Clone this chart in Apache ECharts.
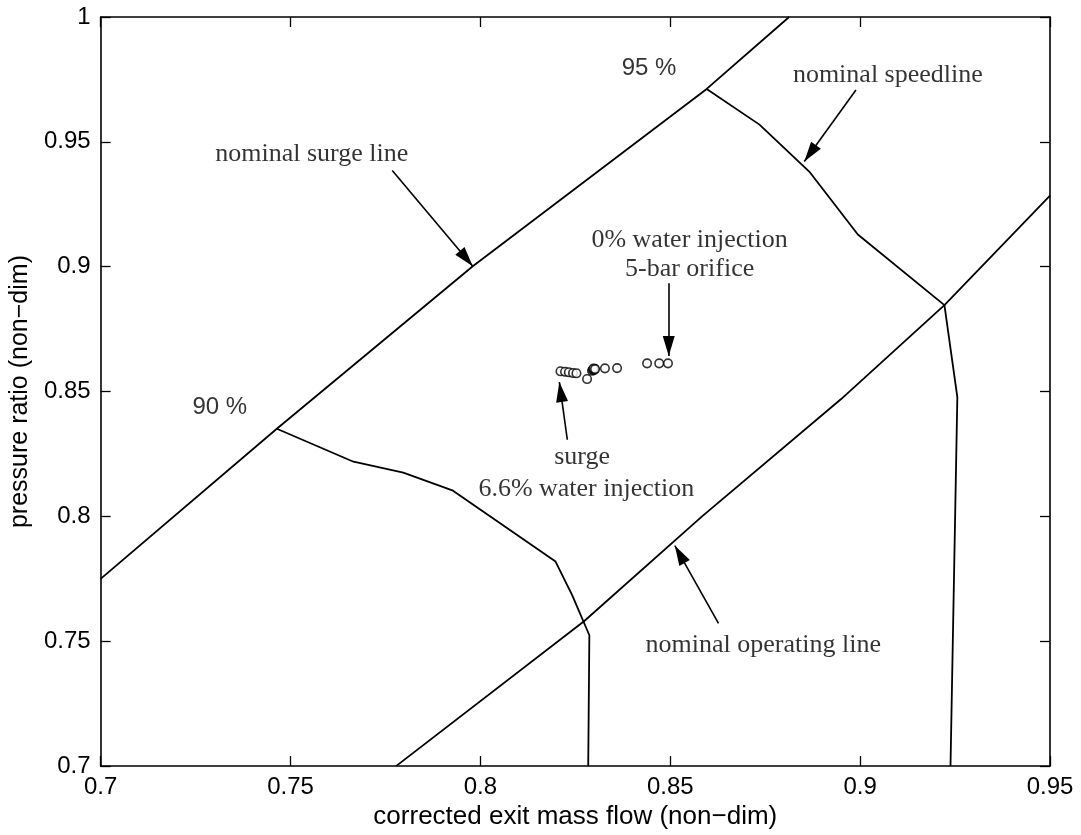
<!DOCTYPE html>
<html>
<head>
<meta charset="utf-8">
<script src="https://cdn.jsdelivr.net/npm/echarts@6/dist/echarts.min.js"></script>
<style>
  html, body { margin: 0; padding: 0; background: #fff; }
  #chart { width: 1081px; height: 835px; }
</style>
</head>
<body>
<div id="chart"></div>
<script>
// Compressor map: corrected exit mass flow vs pressure ratio (both non-dimensional)

// Axis range and tick spacing
const xRange = [0.7, 0.95];
const yRange = [0.7, 1.0];
const tickStep = 0.05;

// Nominal surge line
const surgeLine = [[0.7, 0.775], [0.7464, 0.8351], [0.7980, 0.9002], [0.8596, 0.9712], [0.8813, 1.0]];

// 90 % corrected speed line
const speedline90 = [[0.7464, 0.8351], [0.7666, 0.8219], [0.7797, 0.8175], [0.7928, 0.8103],
  [0.8198, 0.7819], [0.8242, 0.7684], [0.8287, 0.7524], [0.8284, 0.7]];

// 95 % (nominal) corrected speed line
const speedline95 = [[0.8596, 0.9712], [0.8735, 0.9569], [0.8866, 0.9381], [0.8994, 0.9129],
  [0.9222, 0.8846], [0.9256, 0.8478], [0.9238, 0.7]];

// Nominal operating line
const operatingLine = [[0.7778, 0.7], [0.8273, 0.758], [0.8583, 0.7999], [0.8950, 0.847],
  [0.9222, 0.8846], [0.95, 0.9285]];

// Measured operating points, from 6.6 % water injection (surge) to 0 % water injection
const pointFlow = [0.8211, 0.8223, 0.8233, 0.8244, 0.8253, 0.8281, 0.8294, 0.8296, 0.8299,
  0.8301, 0.8298, 0.8302, 0.8328, 0.8360, 0.8439, 0.8471, 0.8494];
const pointRatio = [0.8581, 0.8579, 0.8577, 0.8574, 0.8573, 0.8550, 0.8583, 0.8588, 0.8586,
  0.8591, 0.8592, 0.8590, 0.8593, 0.8594, 0.8613, 0.8613, 0.8613];

// Annotation arrows (tail -> head), in data coordinates
const arrowTails = [[0.7768, 0.9385], [0.8989, 0.9708], [0.8496, 0.8934], [0.8229, 0.8307], [0.8627, 0.7572]];
const arrowHeads = [[0.7980, 0.9002], [0.8853, 0.9421], [0.8496, 0.8642], [0.8208, 0.8538], [0.8512, 0.7883]];

// Annotation texts and their anchor points, in data coordinates
const noteTexts = ['nominal surge line', 'nominal speedline', '0% water injection', '5-bar orifice',
  'surge', '6.6% water injection', 'nominal operating line'];
const noteAnchors = [[0.7556, 0.9449], [0.9073, 0.9768], [0.8551, 0.9105], [0.8551, 0.8990],
  [0.8268, 0.8239], [0.8279, 0.8111], [0.8745, 0.7484]];

// Speed labels
const speedTexts = ['95 %', '90 %'];
const speedAnchors = [[0.8444, 0.9796], [0.7314, 0.8438]];

const SANS = '"Liberation Sans", Arial, Helvetica, sans-serif';
const SERIF = '"Liberation Serif", "Times New Roman", serif';
const INK = '#000';

const fmt = v => String(parseFloat(v.toFixed(2)));

const boxAxis = (extra) => Object.assign({
  type: 'value',
  interval: tickStep,
  axisLine: { show: true, onZero: false, lineStyle: { color: INK, width: 1.6 } },
  axisTick: { show: true, inside: true, length: 10, lineStyle: { color: INK, width: 1.3 } },
  splitLine: { show: false },
  axisLabel: { show: false }
}, extra);

const curve = (name, data) => ({
  name, type: 'line', data, symbol: 'none', silent: true,
  itemStyle: { color: INK },
  lineStyle: { color: INK, width: 1.8 }, z: 3
});

const chart = echarts.init(document.getElementById('chart'), null, { renderer: 'canvas' });

chart.setOption({
  animation: false,
  backgroundColor: '#fff',
  grid: { left: 96, right: 31, top: 17, bottom: 67, containLabel: false },
  xAxis: [
    boxAxis({
      min: xRange[0], max: xRange[1], position: 'bottom',
      name: 'corrected exit mass flow (non\u2212dim)', nameLocation: 'middle', nameGap: 36,
      nameTextStyle: { color: INK, fontFamily: SANS, fontSize: 26 },
      axisLabel: { show: true, color: INK, fontFamily: SANS, fontSize: 24, margin: 9, formatter: fmt }
    }),
    boxAxis({ min: xRange[0], max: xRange[1], position: 'top' })
  ],
  yAxis: [
    boxAxis({
      min: yRange[0], max: yRange[1], position: 'left',
      name: 'pressure ratio (non\u2212dim)', nameLocation: 'middle', nameGap: 65,
      nameTextStyle: { color: INK, fontFamily: SANS, fontSize: 25 },
      axisLabel: { show: true, color: INK, fontFamily: SANS, fontSize: 24, margin: 10, formatter: fmt }
    }),
    boxAxis({ min: yRange[0], max: yRange[1], position: 'right' })
  ],
  series: [
    curve('surge line', surgeLine),
    curve('90 % speed', speedline90),
    curve('95 % speed', speedline95),
    curve('operating line', operatingLine),
    {
      name: 'operating points', type: 'scatter', silent: true, z: 4,
      data: pointFlow.map((x, i) => [x, pointRatio[i]]),
      symbol: 'circle', symbolSize: 8.5,
      itemStyle: { color: '#fff', borderColor: INK, borderWidth: 1.6 }
    },
    {
      name: 'annotations', type: 'scatter', silent: true, z: 5,
      symbolSize: 1, itemStyle: { color: 'transparent' },
      data: noteTexts.map((t, i) => ({
        value: noteAnchors[i],
        label: { show: true, position: 'inside', formatter: t, color: INK, fontFamily: SERIF, fontSize: 26 }
      })).concat(speedTexts.map((t, i) => ({
        value: speedAnchors[i],
        label: { show: true, position: 'inside', formatter: t, color: INK, fontFamily: SANS, fontSize: 24 }
      })))
    },
    {
      name: 'arrows', type: 'line', data: [], silent: true, z: 5,
      itemStyle: { color: INK },
      lineStyle: { color: INK },
      markLine: {
        silent: true,
        animation: false,
        symbol: ['none', 'triangle'],
        symbolSize: [12, 20],
        label: { show: false },
        emphasis: { disabled: true },
        lineStyle: { color: INK, width: 1.6, type: 'solid' },
        itemStyle: { color: INK },
        data: arrowTails.map((p, i) => [
          { coord: p },
          { coord: arrowHeads[i], symbol: 'triangle', symbolSize: [12, 20], symbolOffset: [0, 10] }
        ])
      }
    }
  ]
});
</script>
</body>
</html>
